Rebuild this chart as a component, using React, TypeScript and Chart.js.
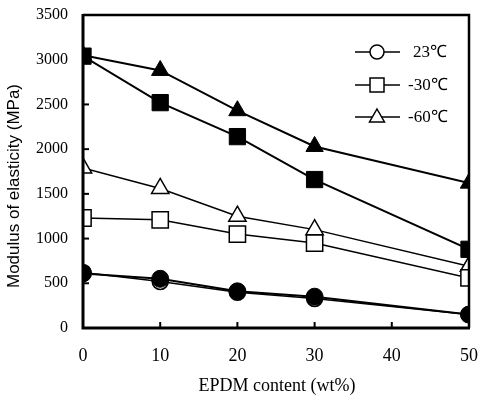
import React, { useEffect, useRef } from "react";
import { Chart, registerables } from "chart.js";

Chart.register(...registerables);

const epdmContent = [0, 10, 20, 30, 50];
const open23 = [620, 520, 400, 330, 150];
const filled23 = [610, 550, 410, 350, 150];
const open30 = [1230, 1210, 1050, 950, 560];
const filled30 = [3040, 2520, 2140, 1660, 880];
const open60 = [1790, 1560, 1250, 1100, 690];
const filled60 = [3050, 2880, 2430, 2030, 1620];
const legendLabels = ["23℃", "-30℃", "-60℃"];
const xTitle = "EPDM content (wt%)";
const yTitle = "Modulus of elasticity (MPa)";

const pts = (vals: number[]) => vals.map((v, i) => ({ x: epdmContent[i], y: v }));

const SERIF = "'Liberation Serif', 'Times New Roman', serif";
const SANS = "'Liberation Sans', Arial, sans-serif";

const framePlugin = {
  id: "frameAndDecor",
  afterDraw(chart: any) {
    const { ctx, chartArea } = chart;
    const { left, right, top, bottom } = chartArea;
    ctx.save();
    ctx.strokeStyle = "#000";
    // frame
    ctx.lineWidth = 2.5;
    ctx.beginPath();
    ctx.moveTo(left, top);
    ctx.lineTo(right, top);
    ctx.lineTo(right, bottom);
    ctx.stroke();
    ctx.lineWidth = 3;
    ctx.beginPath();
    ctx.moveTo(left, top - 1);
    ctx.lineTo(left, bottom);
    ctx.lineTo(right + 1, bottom);
    ctx.stroke();
    // inner ticks
    ctx.lineWidth = 2;
    const ys = chart.scales.y;
    ys.ticks.forEach((t: any) => {
      const p = ys.getPixelForValue(t.value);
      ctx.beginPath();
      ctx.moveTo(left, p);
      ctx.lineTo(left + 6, p);
      ctx.stroke();
    });
    const xs = chart.scales.x;
    xs.ticks.forEach((t: any) => {
      const p = xs.getPixelForValue(t.value);
      ctx.beginPath();
      ctx.moveTo(p, bottom);
      ctx.lineTo(p, bottom - 6);
      ctx.stroke();
    });
    // titles
    ctx.fillStyle = "#000";
    ctx.textAlign = "center";
    ctx.textBaseline = "middle";
    ctx.font = `18px ${SERIF}`;
    ctx.fillText(xTitle, 277, 386);
    ctx.save();
    ctx.translate(14, 186);
    ctx.rotate(-Math.PI / 2);
    ctx.font = `17px ${SANS}`;
    ctx.fillText(yTitle, 0, 0);
    ctx.restore();
    // legend
    const rows = [52, 85, 117];
    const lx0 = 355;
    const lx1 = 400;
    const mx = 377;
    ctx.font = `17px ${SERIF}`;
    ctx.textAlign = "left";
    rows.forEach((ry, i) => {
      ctx.lineWidth = 1.5;
      ctx.strokeStyle = "#000";
      ctx.beginPath();
      ctx.moveTo(lx0, ry);
      ctx.lineTo(lx1, ry);
      ctx.stroke();
      ctx.fillStyle = "#fff";
      ctx.beginPath();
      if (i === 0) {
        ctx.arc(mx, ry, 7, 0, Math.PI * 2);
      } else if (i === 1) {
        ctx.rect(mx - 7, ry - 7, 14, 14);
      } else {
        ctx.moveTo(mx, ry - 8);
        ctx.lineTo(mx + 7.5, ry + 5);
        ctx.lineTo(mx - 7.5, ry + 5);
        ctx.closePath();
      }
      ctx.fill();
      ctx.stroke();
      ctx.fillStyle = "#000";
      ctx.fillText(legendLabels[i], i === 0 ? 413 : 408, ry + 1);
    });
    ctx.restore();
  },
};

export default function App() {
  const ref = useRef<HTMLCanvasElement | null>(null);
  useEffect(() => {
    document.body.style.margin = "0";
    if (!ref.current) return;
    const openStyle = (style: string, r: number) => ({
      borderColor: "#000",
      borderWidth: 1.5,
      pointStyle: style,
      pointRadius: r,
      pointHoverRadius: r,
      pointBackgroundColor: "#fff",
      pointBorderColor: "#000",
      pointBorderWidth: 1.5,
      fill: false,
      tension: 0,
    });
    const filledStyle = (style: string, r: number) => ({
      borderColor: "#000",
      borderWidth: 2,
      pointStyle: style,
      pointRadius: r,
      pointHoverRadius: r,
      pointBackgroundColor: "#000",
      pointBorderColor: "#000",
      pointBorderWidth: 1,
      fill: false,
      tension: 0,
    });
    const chart = new Chart(ref.current, {
      type: "line",
      data: {
        datasets: [
          { label: "23℃ filled", data: pts(filled23), ...filledStyle("circle", 8.5) },
          { label: legendLabels[0], data: pts(open23), ...openStyle("circle", 8) },
          { label: "-30℃ filled", data: pts(filled30), ...filledStyle("rect", 11.5) },
          { label: legendLabels[1], data: pts(open30), ...openStyle("rect", 11.5) },
          { label: "-60℃ filled", data: pts(filled60), ...filledStyle("triangle", 10) },
          { label: legendLabels[2], data: pts(open60), ...openStyle("triangle", 10) },
        ] as any,
      },
      options: {
        animation: false,
        responsive: false,
        layout: { padding: { top: 15, right: 10, left: 0, bottom: 0 } },
        plugins: { legend: { display: false }, tooltip: { enabled: false } },
        scales: {
          x: {
            type: "linear",
            min: 0,
            max: 50,
            afterFit: (s: any) => {
              s.height = 69;
              s.paddingLeft = 0;
              s.paddingRight = 0;
            },
            ticks: {
              stepSize: 10,
              color: "#000",
              padding: 17,
              font: { family: SERIF, size: 18 },
              callback: (v: any) => String(v),
            },
            grid: { display: false, drawTicks: false },
            border: { display: false },
          },
          y: {
            type: "linear",
            min: 0,
            max: 3500,
            afterFit: (s: any) => {
              s.width = 83;
              s.paddingTop = 0;
              s.paddingBottom = 0;
            },
            ticks: {
              stepSize: 500,
              color: "#000",
              padding: 15,
              font: { family: SERIF, size: 16 },
              callback: (v: any) => String(v),
            },
            grid: { display: false, drawTicks: false },
            border: { display: false },
          },
        },
      } as any,
      plugins: [framePlugin],
    });
    return () => chart.destroy();
  }, []);
  return <canvas ref={ref} width={482} height={397} style={{ display: "block" }} />;
}
